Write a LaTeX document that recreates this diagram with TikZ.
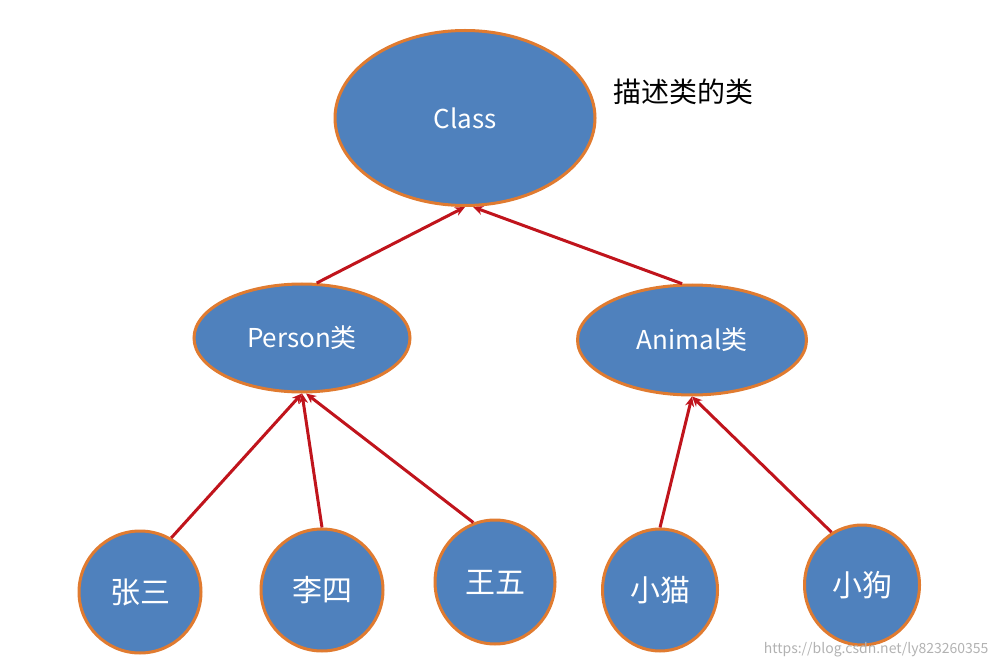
\documentclass[tikz,border=0pt]{standalone}
\usepackage{fontspec}
\setmainfont{Noto Sans CJK SC}
\usetikzlibrary{shapes.geometric,arrows.meta}
\definecolor{fillb}{HTML}{4F81BD}
\definecolor{edgeo}{HTML}{E07B30}
\definecolor{arr}{HTML}{C0141C}
\tikzset{
  ell/.style={ellipse,draw=edgeo,line width=3pt,fill=fillb,text=white,inner sep=0pt,font=\fontsize{26}{30}\selectfont},
  con/.style={draw=arr,line width=3pt,-{Stealth[length=10pt,width=9pt]}}
}
\begin{document}
\begin{tikzpicture}[x=1pt,y=-1pt]
\useasboundingbox (0,0) rectangle (998,668);
\node[ell,minimum width=260pt,minimum height=175pt] (cls) at (465,118) {Class};
\node[ell,minimum width=216pt,minimum height=108pt] (per) at (302,338) {Person类};
\node[ell,minimum width=229pt,minimum height=110pt] (ani) at (692,340) {Animal类};
\node[ell,minimum width=122pt,minimum height=122pt,font=\fontsize{30}{34}\selectfont] (zs) at (140,592) {张三};
\node[ell,minimum width=122pt,minimum height=122pt,font=\fontsize{30}{34}\selectfont] (ls) at (322,590) {李四};
\node[ell,minimum width=120pt,minimum height=124pt,font=\fontsize{30}{34}\selectfont] (ww) at (495,582) {王五};
\node[ell,minimum width=115pt,minimum height=122pt,font=\fontsize{30}{34}\selectfont] (xm) at (660,590) {小猫};
\node[ell,minimum width=115pt,minimum height=120pt,font=\fontsize{30}{34}\selectfont] (xg) at (862,585) {小狗};
\node[font=\fontsize{28}{32}\selectfont,anchor=west] (lbl) at (610,92) {描述类的类};
\node[font=\fontsize{14}{16}\selectfont,text=gray!60,anchor=east] (wm) at (992,650) {https://blog.csdn.net/ly823260355};
\draw[con] (per.75) -- (cls.south);
\draw[con] (ani.100) -- ([xshift=8pt]cls.south);
\draw[con] (zs.60) -- (per.south);
\draw[con] (ls.north) -- (per.south);
\draw[con] (ww.110) -- ([xshift=4pt]per.south);
\draw[con] (xm.90) -- (ani.south);
\draw[con] (xg.120) -- (ani.south);
\end{tikzpicture}
\end{document}
